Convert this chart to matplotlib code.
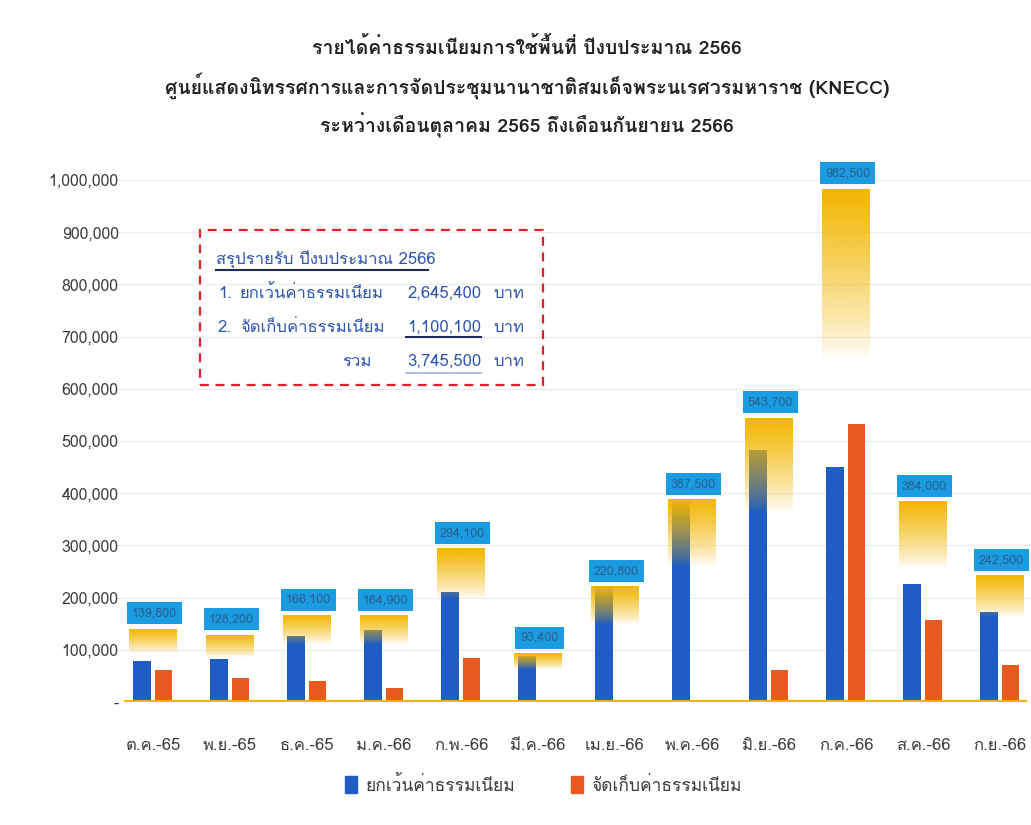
import numpy as np
import matplotlib
matplotlib.use('Agg')
import matplotlib.pyplot as plt
from matplotlib import font_manager
from matplotlib.patches import Rectangle
from fontTools.ttLib import TTFont

months = ['ต.ค.-65', 'พ.ย.-65', 'ธ.ค.-65', 'ม.ค.-66', 'ก.พ.-66', 'มี.ค.-66',
          'เม.ย.-66', 'พ.ค.-66', 'มิ.ย.-66', 'ก.ค.-66', 'ส.ค.-66', 'ก.ย.-66']
totals = [139800, 128200, 166100, 164900, 294100, 93400,
          220800, 387500, 543700, 982500, 384000, 242500]
exempt = [78800, 81700, 126600, 137900, 210600, 89000,
          220800, 387500, 482200, 449500, 227000, 171500]
collected = [61000, 46500, 39500, 27000, 83500, 4400,
             0, 0, 61500, 533000, 157000, 71000]
yticks = [0, 100000, 200000, 300000, 400000, 500000,
          600000, 700000, 800000, 900000, 1000000]

title_lines = ['รายได้ค่าธรรมเนียมการใช้พื้นที่ ปีงบประมาณ 2566',
               'ศูนย์แสดงนิทรรศการและการจัดประชุมนานาชาติสมเด็จพระนเรศวรมหาราช (KNECC)',
               'ระหว่างเดือนตุลาคม 2565 ถึงเดือนกันยายน 2566']
legend_names = ['ยกเว้นค่าธรรมเนียม', 'จัดเก็บค่าธรรมเนียม']
summary_head = 'สรุปรายรับ ปีงบประมาณ 2566'
summary_rows = [('1.', 'ยกเว้นค่าธรรมเนียม', '2,645,400'),
                ('2.', 'จัดเก็บค่าธรรมเนียม', '1,100,100'),
                ('', 'รวม', '3,745,500')]


def find_thai_font():
    # first installed family with a glyph for ก
    for f in font_manager.fontManager.ttflist:
        try:
            tt = TTFont(f.fname, fontNumber=0, lazy=True)
            if 0x0E01 in tt.getBestCmap():
                return f.name
        except Exception:
            pass
    return 'DejaVu Sans'


thai = find_thai_font()
plt.rcParams['font.family'] = [thai, 'DejaVu Sans']

BLUE = '#1f5cc4'
ORANGE = '#e8591f'
GOLD = np.array([242, 182, 0]) / 255
TXT = '#3c3c3c'

fig = plt.figure(figsize=(10.31, 8.25), dpi=100)
ax = fig.add_axes([114.5 / 1031, 123 / 825, 924 / 1031, 522 / 825])

x = np.arange(len(months))
ax.bar(x - 0.14, exempt, width=0.24, color=BLUE, zorder=2)
ax.bar(x + 0.14, collected, width=0.22, color=ORANGE, zorder=2)

# total bars: gold fading out downwards, drawn over the monthly bars
frac = np.linspace(0, 1, 256)
alpha = np.clip((frac - 0.67) / 0.33, 0, 1) ** 0.8
grad = np.zeros((256, 1, 4))
grad[..., :3] = GOLD
grad[..., 3] = alpha[:, None]
for i, t in enumerate(totals):
    ax.imshow(grad, extent=(i - 0.31, i + 0.31, 0, t), origin='lower',
              aspect='auto', interpolation='bilinear', zorder=3)
    ax.annotate(f'{t:,}', (i + 0.02, t), xytext=(0, 7), textcoords='offset points',
                ha='center', va='bottom', fontsize=9, color='#2a5f8c', zorder=6,
                annotation_clip=False,
                bbox=dict(boxstyle='square,pad=0.4', fc='#1a9be2', ec='none'))

ax.axhline(0, color='#f0b400', lw=3, zorder=4, xmin=0.012, xmax=0.985)

ax.set_xlim(-0.5, len(months) - 0.5)
ax.set_ylim(0, 1000000)
ax.set_yticks(yticks)
ax.set_yticklabels(['-'] + [f'{v:,}' for v in yticks[1:]], fontsize=11.5, color=TXT)
ax.set_xticks(x)
ax.set_xticklabels(months, fontsize=12, color=TXT)
ax.tick_params(axis='both', length=0)
ax.tick_params(axis='x', pad=26)
ax.tick_params(axis='y', pad=-3)
ax.grid(axis='y', color='#ececec', lw=0.8, zorder=0)
for s in ax.spines.values():
    s.set_visible(False)

# title
for k, line in enumerate(title_lines):
    fig.text(0.511, 1 - (47 + 39 * k) / 825, line, ha='center', va='center',
             fontsize=14, fontweight='bold', color='#222222')

# summary box
fig.patches.append(Rectangle((200 / 1031, 1 - 385 / 825), 343 / 1031, 155 / 825,
                             transform=fig.transFigure, fill=False, ec='#e0202a',
                             ls=(0, (4, 3)), lw=1.6))
SB = '#2f55b0'
fig.text(216 / 1031, 1 - 260 / 825, summary_head, ha='left', va='center',
         fontsize=12, color=SB)
fig.lines.append(plt.Line2D([216 / 1031, 428 / 1031], [1 - 270 / 825] * 2,
                            transform=fig.transFigure, color='#1a2a5a', lw=1.5))
for k, (num, name, val) in enumerate(summary_rows):
    y = 1 - (294 + 34 * k) / 825
    fig.text(218 / 1031, y, num, ha='left', va='center', fontsize=12, color=SB)
    if num:
        fig.text(240 / 1031, y, name, ha='left', va='center', fontsize=12, color=SB)
    else:
        fig.text(372 / 1031, y, name, ha='right', va='center', fontsize=12, color=SB)
    fig.text(481 / 1031, y, val, ha='right', va='center', fontsize=12, color=SB)
    fig.text(493 / 1031, y, 'บาท', ha='left', va='center', fontsize=12, color=SB)
fig.lines.append(plt.Line2D([406 / 1031, 481 / 1031], [1 - 337 / 825] * 2,
                            transform=fig.transFigure, color='#1a2a5a', lw=1.5))
fig.lines.append(plt.Line2D([406 / 1031, 481 / 1031], [1 - 373 / 825] * 2,
                            transform=fig.transFigure, color='#9fb3d6', lw=1.2))

# legend
handles = [Rectangle((0, 0), 1, 1, color=BLUE), Rectangle((0, 0), 1, 1, color=ORANGE)]
fig.legend(handles, legend_names, loc='center', bbox_to_anchor=(0.527, 1 - 785 / 825),
           ncol=2, frameon=False, fontsize=12.5, handlelength=0.7, handleheight=1.1,
           columnspacing=3.2, handletextpad=0.5, labelcolor=TXT)

fig.savefig('out.png', dpi=100, facecolor='white')
